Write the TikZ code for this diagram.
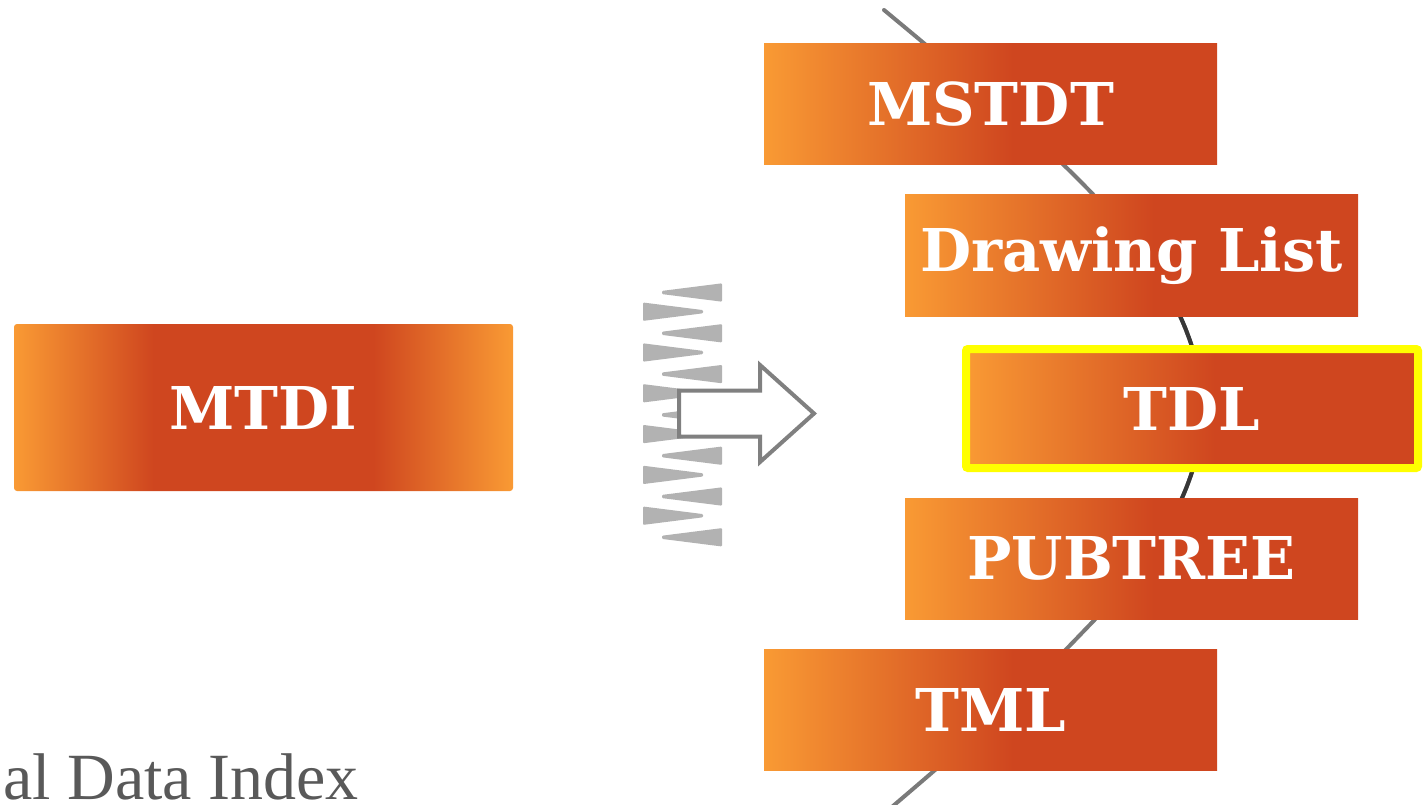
\documentclass[tikz,border=0pt]{standalone}
\usepackage{fontspec}
\setmainfont{DejaVu Serif}
\newfontfamily\captfont{Liberation Serif}
\definecolor{ogA}{RGB}{249,154,52}
\definecolor{redA}{RGB}{207,70,31}
\definecolor{arcgray}{RGB}{122,122,122}
\definecolor{arcdark}{RGB}{55,55,55}
\definecolor{wedgegray}{RGB}{178,178,178}
\definecolor{arrowgray}{RGB}{128,128,128}
\definecolor{capgray}{RGB}{89,89,89}
\definecolor{hiyellow}{RGB}{255,255,0}
\pgfdeclarehorizontalshading{rightgrad}{100bp}{color(0bp)=(ogA); color(25bp)=(ogA); color(52.5bp)=(redA); color(100bp)=(redA)}
\pgfdeclarehorizontalshading{centergrad}{100bp}{color(0bp)=(ogA); color(25bp)=(ogA); color(39bp)=(redA); color(61bp)=(redA); color(75bp)=(ogA); color(100bp)=(ogA)}
\tikzset{
  lbl/.style={font=\bfseries\fontsize{59}{59}\selectfont, text=white, inner sep=0pt, align=center},
  rbox/.style={lbl, rectangle, shading=rightgrad, minimum width=453, minimum height=121},
  cbox/.style={lbl, rectangle, shading=centergrad, rounded corners=3, minimum width=499, minimum height=167},
  hibox/.style={lbl, rectangle, shading=rightgrad, draw=hiyellow, line width=8, rounded corners=2, minimum width=452, minimum height=119},
  arcline/.style={line width=4, line cap=round},
  wedge/.style={fill=wedgegray, rounded corners=1},
  fatarrow/.style={draw=arrowgray, fill=white, line width=4, line join=miter}
}
\begin{document}
\begin{tikzpicture}[x=1pt,y=-1pt]
\useasboundingbox (0,0) rectangle (1424,805);
% arc
\def\arcpath{plot[smooth, tension=0.6] coordinates {(884,10) (991,100) (1078,179) (1142,252) (1186,330) (1203,408) (1187,486) (1143,564) (1079,636) (1000,713) (893,806)}}
\draw[arcline, draw=arcgray] \arcpath;
\begin{scope}
  \clip (1100,310) rectangle (1300,505);
  \draw[arcline, draw=arcdark] \arcpath;
\end{scope}
% boxes
\node[cbox] (mtdi) at (263.5,407.5) {MTDI};
\node[rbox] (mstdt) at (990.5,104.5) {MSTDT};
\node[rbox] (dlist) at (1131.5,255.5) {Drawing List};
\node[hibox] (tdl) at (1192,408.5) {TDL};
\node[rbox] (pubtree) at (1131.5,558.5) {PUBTREE};
\node[rbox] (tml) at (990.5,709.5) {TML};
% spring wedges
\foreach \k in {0,...,6}{
  \pgfmathsetmacro\yc{292.5+40.8*\k}
  \fill[wedge] (722,\yc-9.2) -- (722,\yc+9.2) -- (662,\yc+1.6) -- (662,\yc-1.6) -- cycle;
}
\foreach \k in {0,...,5}{
  \pgfmathsetmacro\yc{311.7+40.8*\k}
  \fill[wedge] (643,\yc-9.2) -- (643,\yc+9.2) -- (703,\yc+1.6) -- (703,\yc-1.6) -- cycle;
}
% block arrow
\draw[fatarrow] (679,390.5) -- (760,390.5) -- (760,365) -- (814,413.5) -- (760,462) -- (760,436.5) -- (679,436.5) -- cycle;
% caption
\node[anchor=base west, inner sep=0pt, text=capgray, font=\captfont\fontsize{66}{67}\selectfont] (caption) at (3,799) {al Data Index};
\end{tikzpicture}
\end{document}
